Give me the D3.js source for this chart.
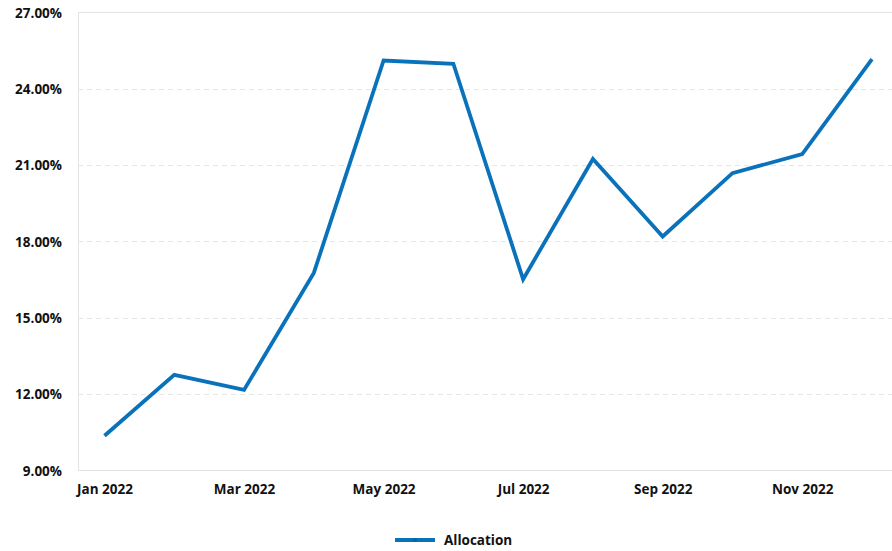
<!DOCTYPE html>
<html>
<head>
<meta charset="utf-8">
<script src="https://cdn.jsdelivr.net/npm/d3@7"></script>
<style>
  html, body { margin: 0; padding: 0; background: #fff; }
  svg { display: block; }
  text { font-family: "Open Sans", sans-serif; font-weight: 700; fill: #111; }
</style>
</head>
<body>
<svg id="chart" width="892" height="551"></svg>
<script>
// Monthly allocation share, 2022
const months = ["Jan 2022", "Feb 2022", "Mar 2022", "Apr 2022", "May 2022", "Jun 2022",
                "Jul 2022", "Aug 2022", "Sep 2022", "Oct 2022", "Nov 2022", "Dec 2022"];
const allocation = [10.36, 12.75, 12.16, 16.76, 25.11, 24.98, 16.51, 21.24, 18.19, 20.68, 21.43, 25.16];
const yTicks = [9, 12, 15, 18, 21, 24, 27];
const xTickLabels = ["Jan 2022", "Mar 2022", "May 2022", "Jul 2022", "Sep 2022", "Nov 2022"];
const seriesName = "Allocation";

const svg = d3.select("#chart");
const plot = { left: 78, right: 892, top: 12.4, bottom: 470.3 };
const color = "#0a72ba";
const fontSize = "13.5px";

const x = d3.scalePoint().domain(months).range([104.5, 872]);
const y = d3.scaleLinear().domain([9, 27]).range([plot.bottom, plot.top]);

// horizontal grid
svg.append("g").selectAll("line")
  .data(yTicks.filter(t => t !== 9))
  .join("line")
  .attr("x1", plot.left).attr("x2", plot.right)
  .attr("y1", d => Math.round(y(d)) + 0.5).attr("y2", d => Math.round(y(d)) + 0.5)
  .attr("stroke", d => d === 27 ? "#e3e3e3" : "#e6e6e6")
  .attr("stroke-width", 1)
  .attr("stroke-dasharray", d => d === 27 ? null : "5,4");

// axis frame lines
svg.append("line")
  .attr("x1", plot.left + 0.5).attr("x2", plot.left + 0.5)
  .attr("y1", plot.top).attr("y2", plot.bottom)
  .attr("stroke", "#e3e3e3");
svg.append("line")
  .attr("x1", plot.left).attr("x2", plot.right)
  .attr("y1", Math.round(plot.bottom) + 0.5).attr("y2", Math.round(plot.bottom) + 0.5)
  .attr("stroke", "#e3e3e3");

// y-axis labels
const yAxis = d3.axisLeft(y).tickValues(yTicks).tickSize(0).tickPadding(16)
  .tickFormat(d => d3.format(".2f")(d) + "%");
const gy = svg.append("g").attr("transform", `translate(${plot.left},0)`).call(yAxis);
gy.select(".domain").remove();
gy.selectAll("text").style("font-size", fontSize).attr("dy", "0.35em")
  .style("font-family", "'Open Sans', sans-serif").style("font-weight", 700).attr("fill", "#111");

// x-axis labels
const xAxis = d3.axisBottom(x).tickValues(xTickLabels).tickSize(0).tickPadding(14);
const gx = svg.append("g").attr("transform", `translate(0,${plot.bottom})`).call(xAxis);
gx.select(".domain").remove();
gx.selectAll("text").style("font-size", fontSize)
  .style("font-family", "'Open Sans', sans-serif").style("font-weight", 700).attr("fill", "#111");

// series line
const line = d3.line().x((d, i) => x(months[i])).y(d => y(d));
svg.append("path")
  .datum(allocation)
  .attr("d", line)
  .attr("fill", "none")
  .attr("stroke", color)
  .attr("stroke-width", 3.8)
  .attr("stroke-linejoin", "miter")
  .attr("stroke-linecap", "butt");

// legend
const lg = svg.append("g").attr("transform", "translate(395,540)");
lg.append("line").attr("x1", 0).attr("x2", 40).attr("y1", 0).attr("y2", 0)
  .attr("stroke", color).attr("stroke-width", 3.8);
lg.append("circle").attr("cx", 20).attr("cy", 0).attr("r", 2).attr("fill", "#0862a3");
lg.append("text").attr("x", 49).attr("y", 0).attr("dy", "0.35em")
  .style("font-size", fontSize).text(seriesName);
</script>
</body>
</html>
